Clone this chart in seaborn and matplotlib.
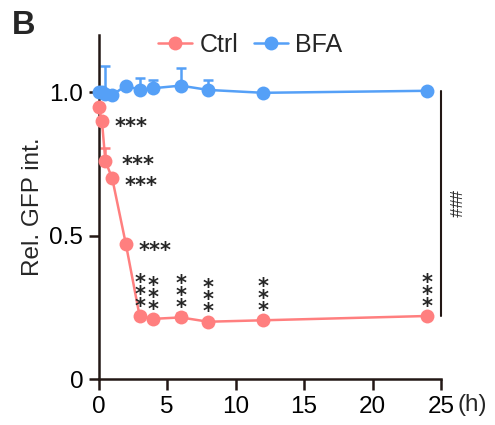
import matplotlib
matplotlib.use("Agg")
import matplotlib.pyplot as plt
import numpy as np
import pandas as pd
import seaborn as sns

# ---------------------------------------------------------------------------
# Data
# ---------------------------------------------------------------------------
TIME_H = [0, 0.25, 0.5, 1, 2, 3, 4, 6, 8, 12, 24]
CTRL = [0.95, 0.90, 0.76, 0.70, 0.47, 0.22, 0.21, 0.215, 0.20, 0.205, 0.22]
CTRL_ERR = [0.0, 0.0, 0.045, 0.0, 0.01, 0.01, 0.0, 0.015, 0.0, 0.01, 0.0]
BFA = [1.0, 1.0, 0.995, 0.99, 1.023, 1.008, 1.014, 1.023, 1.008, 0.998, 1.005]
BFA_ERR = [0.0, 0.0, 0.095, 0.0, 0.0, 0.04, 0.03, 0.06, 0.035, 0.0, 0.0]

SERIES = ["Ctrl", "BFA"]
PALETTE = {"Ctrl": "#FF7F7F", "BFA": "#55A0F7"}

# significance marks: horizontal "***" next to early points, stacked above late ones
SIG_SIDE_T = [0.25, 0.5, 1, 2]
SIG_STACK_T = [3, 4, 6, 8, 12, 24]
# label offsets (points) for the side marks
SIDE_DX = [9, 12, 9, 9]
SIDE_DY = [-9, -7, -10, -9]

X_TICKS = [0, 5, 10, 15, 20, 25]
Y_TICKS = [0, 0.5, 1.0]
Y_TICKLABELS = ["0", "0.5", "1.0"]

df = pd.DataFrame({
    "time": TIME_H * 2,
    "value": CTRL + BFA,
    "group": ["Ctrl"] * len(TIME_H) + ["BFA"] * len(TIME_H),
})

sns.set_theme(style="ticks")
plt.rcParams.update({
    "font.family": ["Liberation Sans", "DejaVu Sans"],
    "axes.linewidth": 1.8,
    "xtick.major.width": 1.8,
    "ytick.major.width": 1.8,
    "xtick.major.size": 8,
    "ytick.major.size": 7,
    "axes.edgecolor": "#231815",
})

fig = plt.figure(figsize=(4.95, 4.25), dpi=100)
ax = fig.add_axes([0.199, 0.108, 0.692, 0.81])

# upward-only error bars
for name, vals, errs in [("Ctrl", CTRL, CTRL_ERR), ("BFA", BFA, BFA_ERR)]:
    ax.errorbar(TIME_H, vals, yerr=[np.zeros(len(errs)), errs], fmt="none",
                ecolor=PALETTE[name], elinewidth=1.8, capsize=3.5,
                capthick=1.8, clip_on=False, zorder=2)

sns.lineplot(data=df, x="time", y="value", hue="group", hue_order=SERIES,
             palette=PALETTE, marker="o", markersize=10, markeredgewidth=0,
             linewidth=1.8, errorbar=None, ax=ax, zorder=3, clip_on=False)

ax.set_xlim(0, 25)
ax.set_ylim(0, 1.2)
ax.set_xticks(X_TICKS)
ax.set_yticks(Y_TICKS)
ax.set_yticklabels(Y_TICKLABELS)
ax.tick_params(labelsize=17.5, colors="#231815", labelcolor="black", pad=4)
ax.set_xlabel("")
ax.set_ylabel("Rel. GFP int.", fontsize=17.5, labelpad=4)
sns.despine(ax=ax)

# significance stars (DejaVu bold gives a star-like asterisk)
STAR_KW = dict(fontsize=15, fontweight="bold", family="DejaVu Sans",
               textcoords="offset points", annotation_clip=False)
for t, dx, dy in zip(SIG_SIDE_T, SIDE_DX, SIDE_DY):
    y = CTRL[TIME_H.index(t)]
    ax.annotate("***", xy=(t, y), xytext=(dx, dy), ha="left", va="baseline",
                **STAR_KW)
for t in SIG_STACK_T:
    y = CTRL[TIME_H.index(t)]
    ax.annotate("*\n*\n*", xy=(t, y), xytext=(0, -0.5), ha="center",
                va="bottom", linespacing=0.5, **STAR_KW)

# bracket between groups at 24 h
ax.plot([25, 25], [BFA[-1], CTRL[-1]], color="#231815", lw=1.5, clip_on=False)
ax.text(25.9, (BFA[-1] + CTRL[-1]) / 2, "###", fontsize=12, rotation=270,
        ha="center", va="center")

ax.text(1.047, -0.075, "(h)", transform=ax.transAxes, fontsize=17.5,
        ha="left", va="center")

leg = ax.legend(loc="center", bbox_to_anchor=(0.505, 0.894),
                bbox_transform=fig.transFigure, ncol=2, frameon=False,
                fontsize=18, handlelength=1.36, handletextpad=0.28,
                columnspacing=0.62)

fig.text(0.024, 0.94, "B", fontsize=23.5, fontweight="bold", va="center")

fig.savefig("out.png", dpi=100)
